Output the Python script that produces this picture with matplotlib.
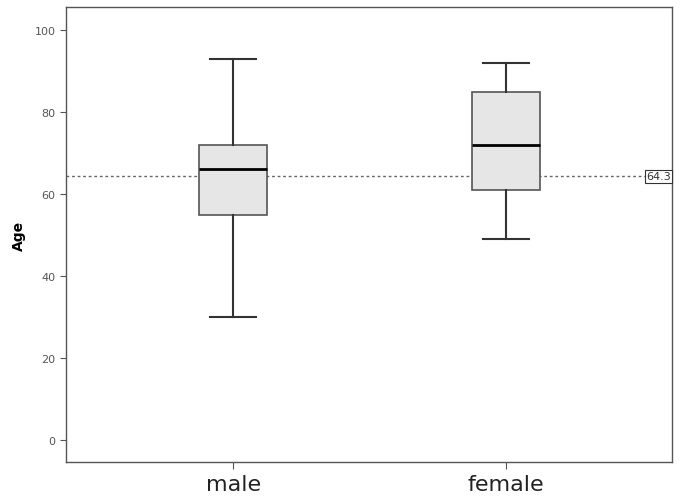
import matplotlib.pyplot as plt

# data
groups = ["male", "female"]
whisker_low = [30, 49]
q1 = [55, 61]
median = [66, 72]
q3 = [72, 85]
whisker_high = [93, 92]
ref_value = 64.3

stats = []
for i, g in enumerate(groups):
    stats.append(dict(label=g, whislo=whisker_low[i], q1=q1[i], med=median[i],
                      q3=q3[i], whishi=whisker_high[i], fliers=[]))

fig = plt.figure(figsize=(6.85, 5.02), dpi=100)
ax = fig.add_axes([0.0964, 0.0777, 0.885, 0.906])

ax.bxp(stats, positions=[0, 1], widths=0.25, patch_artist=True, showfliers=False,
       boxprops=dict(facecolor="#e6e6e6", edgecolor="#555555", linewidth=1.2),
       medianprops=dict(color="black", linewidth=2),
       whiskerprops=dict(color="#333333", linewidth=1.5),
       capprops=dict(color="#333333", linewidth=1.5),
       capwidths=0.17)

ax.axhline(ref_value, color="#666666", linestyle=(0, (2, 2)), linewidth=1, zorder=0)
ax.text(1.604, ref_value, "64.3", ha="right", va="center", fontsize=8, color="#333333",
        bbox=dict(boxstyle="square,pad=0.1", facecolor="white", edgecolor="#333333", linewidth=0.8))

ax.set_xlim(-0.612, 1.608)
ax.set_ylim(-5.4, 105.6)
ax.set_yticks([0, 20, 40, 60, 80, 100])
ax.tick_params(axis="y", labelsize=8, labelcolor="#555555", color="#555555", length=4)
ax.tick_params(axis="x", labelsize=16, labelcolor="#222222", color="#555555", length=5)
ax.set_xticks([0, 1])
ax.set_xticklabels(groups)
ax.set_ylabel("Age", fontsize=10, fontweight="bold", labelpad=6)

for s in ax.spines.values():
    s.set_color("#555555")
    s.set_linewidth(1)

fig.savefig("out.png", dpi=100)
